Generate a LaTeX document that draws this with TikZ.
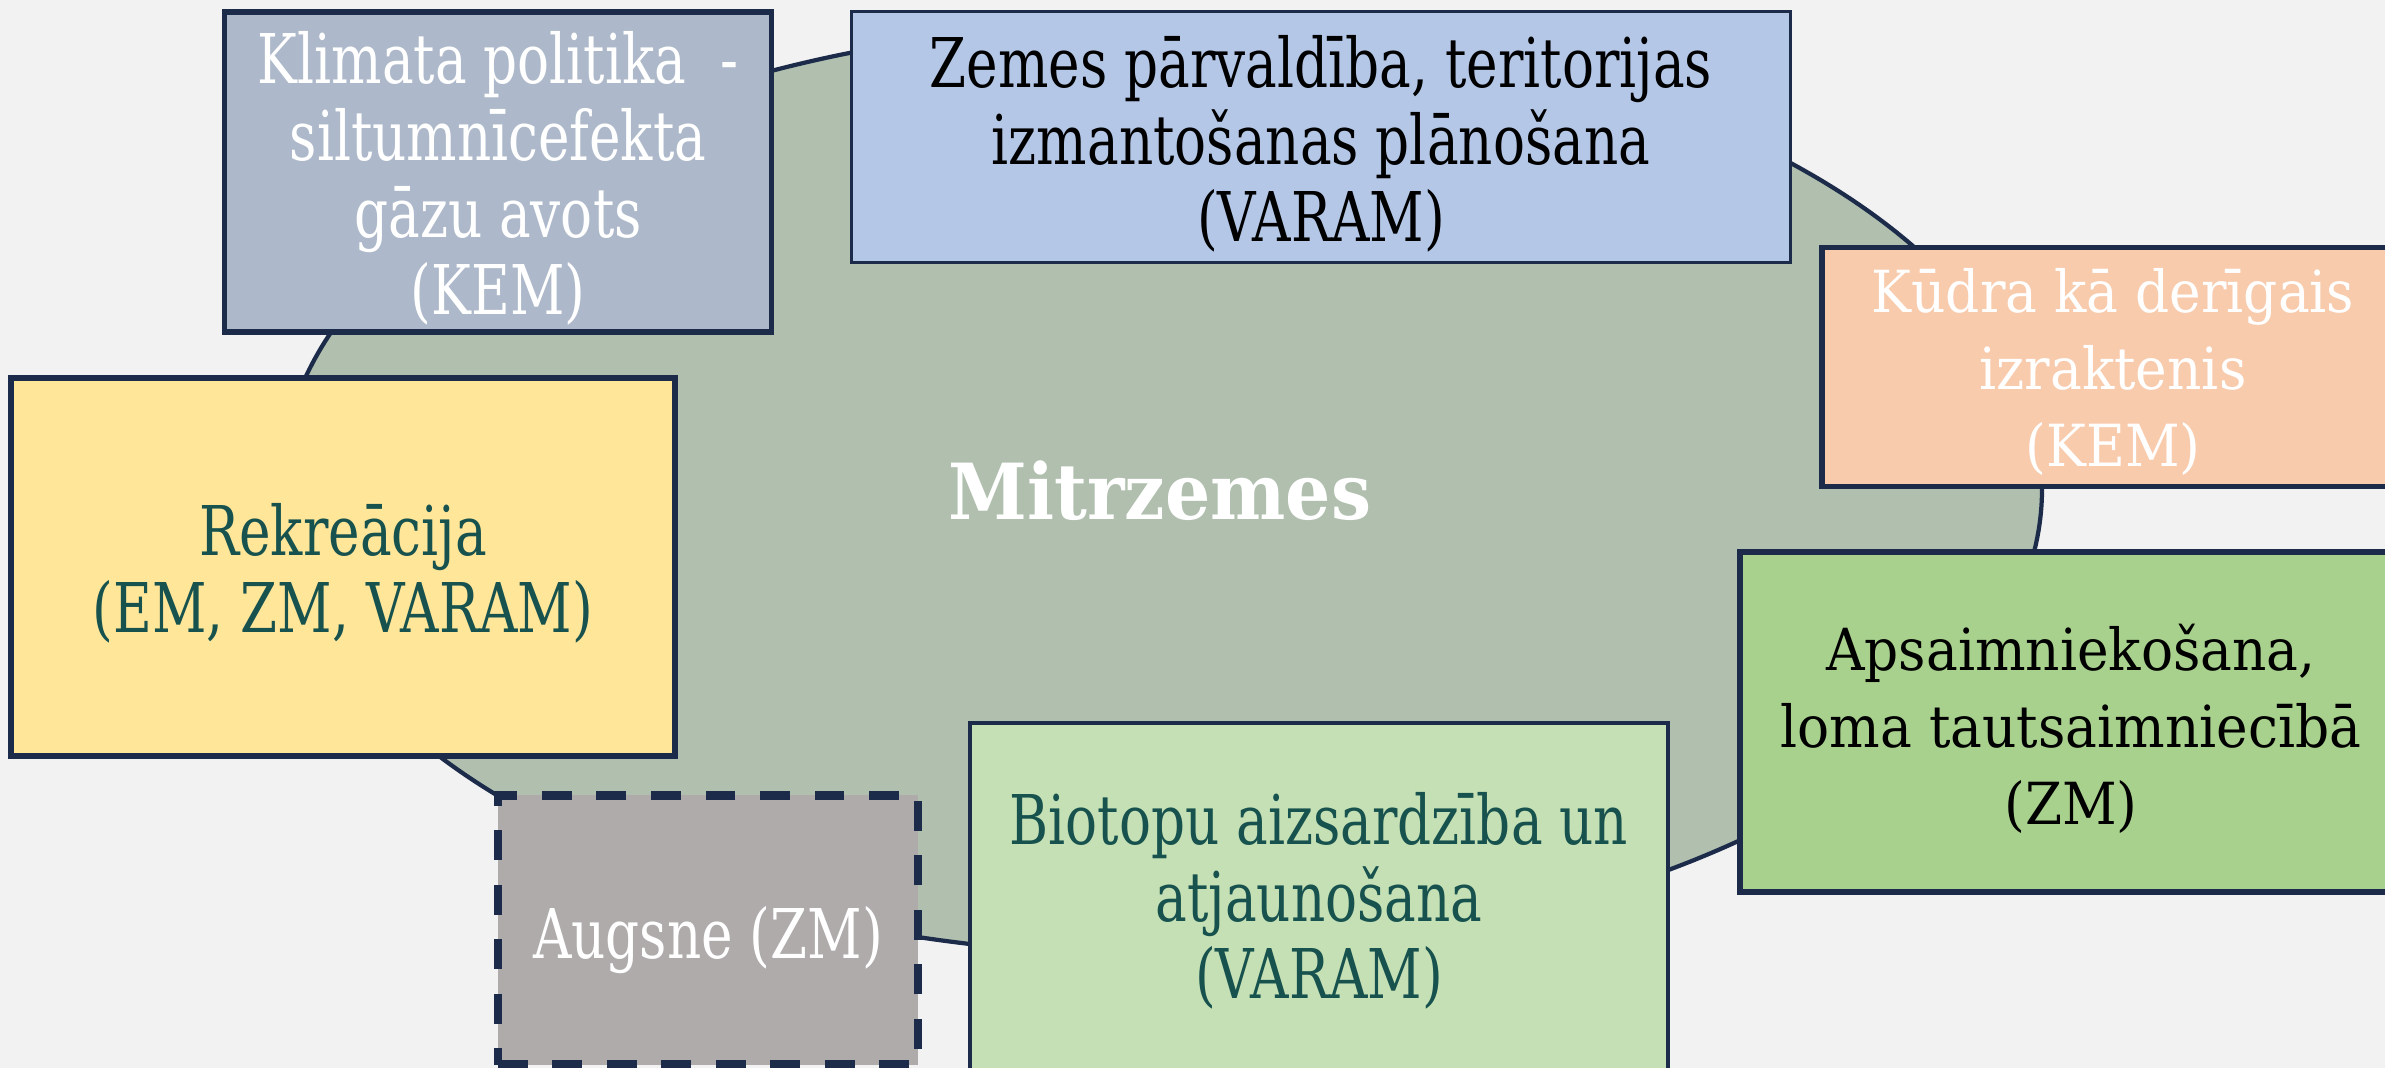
\documentclass[tikz,border=0pt]{standalone}
\usepackage{fontspec}
\usepackage{xcolor}
\usepackage{tikz}
\usetikzlibrary{positioning}
\setmainfont{DejaVu Serif}
\newfontfamily\narrowfont[FakeStretch=0.776]{DejaVu Serif}
\newfontfamily\widefont[FakeStretch=0.92]{DejaVu Serif}

\definecolor{bgcol}{HTML}{F2F2F2}
\definecolor{navy}{HTML}{1C2B4A}
\definecolor{sage}{HTML}{B0BFAE}
\definecolor{klimcol}{HTML}{ADB9CA}
\definecolor{zemcol}{HTML}{B4C7E7}
\definecolor{kudcol}{HTML}{F8CBAD}
\definecolor{rekcol}{HTML}{FFE699}
\definecolor{apscol}{HTML}{A9D18E}
\definecolor{biocol}{HTML}{C5E0B4}
\definecolor{augcol}{HTML}{AFABAB}
\definecolor{tealtxt}{HTML}{17524E}

\tikzset{
  topic/.style={draw=navy, line width=1.6pt, inner sep=0pt},
  narrowtxt/.style={align=center, font=\narrowfont\fontsize{19.5}{21.9}\selectfont},
  widetxt/.style={align=center, font=\widefont\fontsize{16.5}{21.9}\selectfont}
}

\begin{document}
\begin{tikzpicture}[x=0.01cm, y=-0.01cm]
            % canvas
            \fill[bgcol] (0,0) rectangle (2385,1068);
            \useasboundingbox (0,0) rectangle (2385,1068);
            \clip (0,0) rectangle (2385,1068);

            % wetland ellipse
            \draw[navy, fill=sage, line width=1.2pt] (1161,489) ellipse [x radius=881, y radius=466];
            \node[text=white, font=\widefont\bfseries\fontsize{22}{26}\selectfont] (mitrzemes) at (1160,491) {Mitrzemes};

            % Klimata politika
            \node[topic, fill=klimcol, minimum width=5.47cm, minimum height=3.2cm] (klimata) at (498,172) {};
            \node[narrowtxt, text=white] (klimata-txt) at ([yshift=-0.06cm]klimata.center)
            {Klimata politika \ -\\siltumnīcefekta\\gāzu avots\\(KEM)};

            % Zemes parvaldiba
            \node[topic, fill=zemcol, line width=0.8pt, minimum width=9.38cm, minimum height=2.51cm] (zemes) at (1321,137) {};
            \node[narrowtxt, text=black] (zemes-txt) at ([yshift=-0.07cm]zemes.center)
            {Zemes pārvaldība, teritorijas\\izmantošanas plānošana\\(VARAM)};

            % Kudra
            \node[topic, fill=kudcol, minimum width=5.82cm, minimum height=2.39cm] (kudra) at (2113,367) {};
            \node[widetxt, text=white] (kudra-txt) at ([yshift=-0.05cm]kudra.center)
            {Kūdra kā derīgais\\izraktenis\\(KEM)};

            % Rekreacija
            \node[topic, fill=rekcol, minimum width=6.64cm, minimum height=3.78cm] (rekreacija) at (343,567) {};
            \node[narrowtxt, text=tealtxt] (rekreacija-txt) at ([yshift=-0.06cm]rekreacija.center)
            {Rekreācija\\(EM, ZM, VARAM)};

            % Apsaimniekosana
            \node[topic, fill=apscol, minimum width=6.62cm, minimum height=3.4cm] (apsaim) at (2071,722) {};
            \node[widetxt, text=black] (apsaim-txt) at ([yshift=-0.07cm]apsaim.center)
            {Apsaimniekošana,\\loma tautsaimniecībā\\(ZM)};

            % Biotopu aizsardziba
            \node[topic, fill=biocol, line width=1.2pt, minimum width=6.98cm, minimum height=3.5cm] (biotopu) at (1319,898) {};
            \node[narrowtxt, text=tealtxt] (biotopu-txt) at ([yshift=-0.03cm]biotopu.center)
            {Biotopu aizsardzība un\\atjaunošana\\(VARAM)};

            % Augsne
            \node[topic, fill=augcol, line width=2.4pt, dash pattern=on 8.5pt off 7pt, minimum width=4.2cm, minimum height=2.69cm] (augsne) at (708,930) {};
            \node[narrowtxt, text=white] (augsne-txt) at ([yshift=-0.1cm]augsne.center) {Augsne (ZM)};
\end{tikzpicture}
\end{document}
